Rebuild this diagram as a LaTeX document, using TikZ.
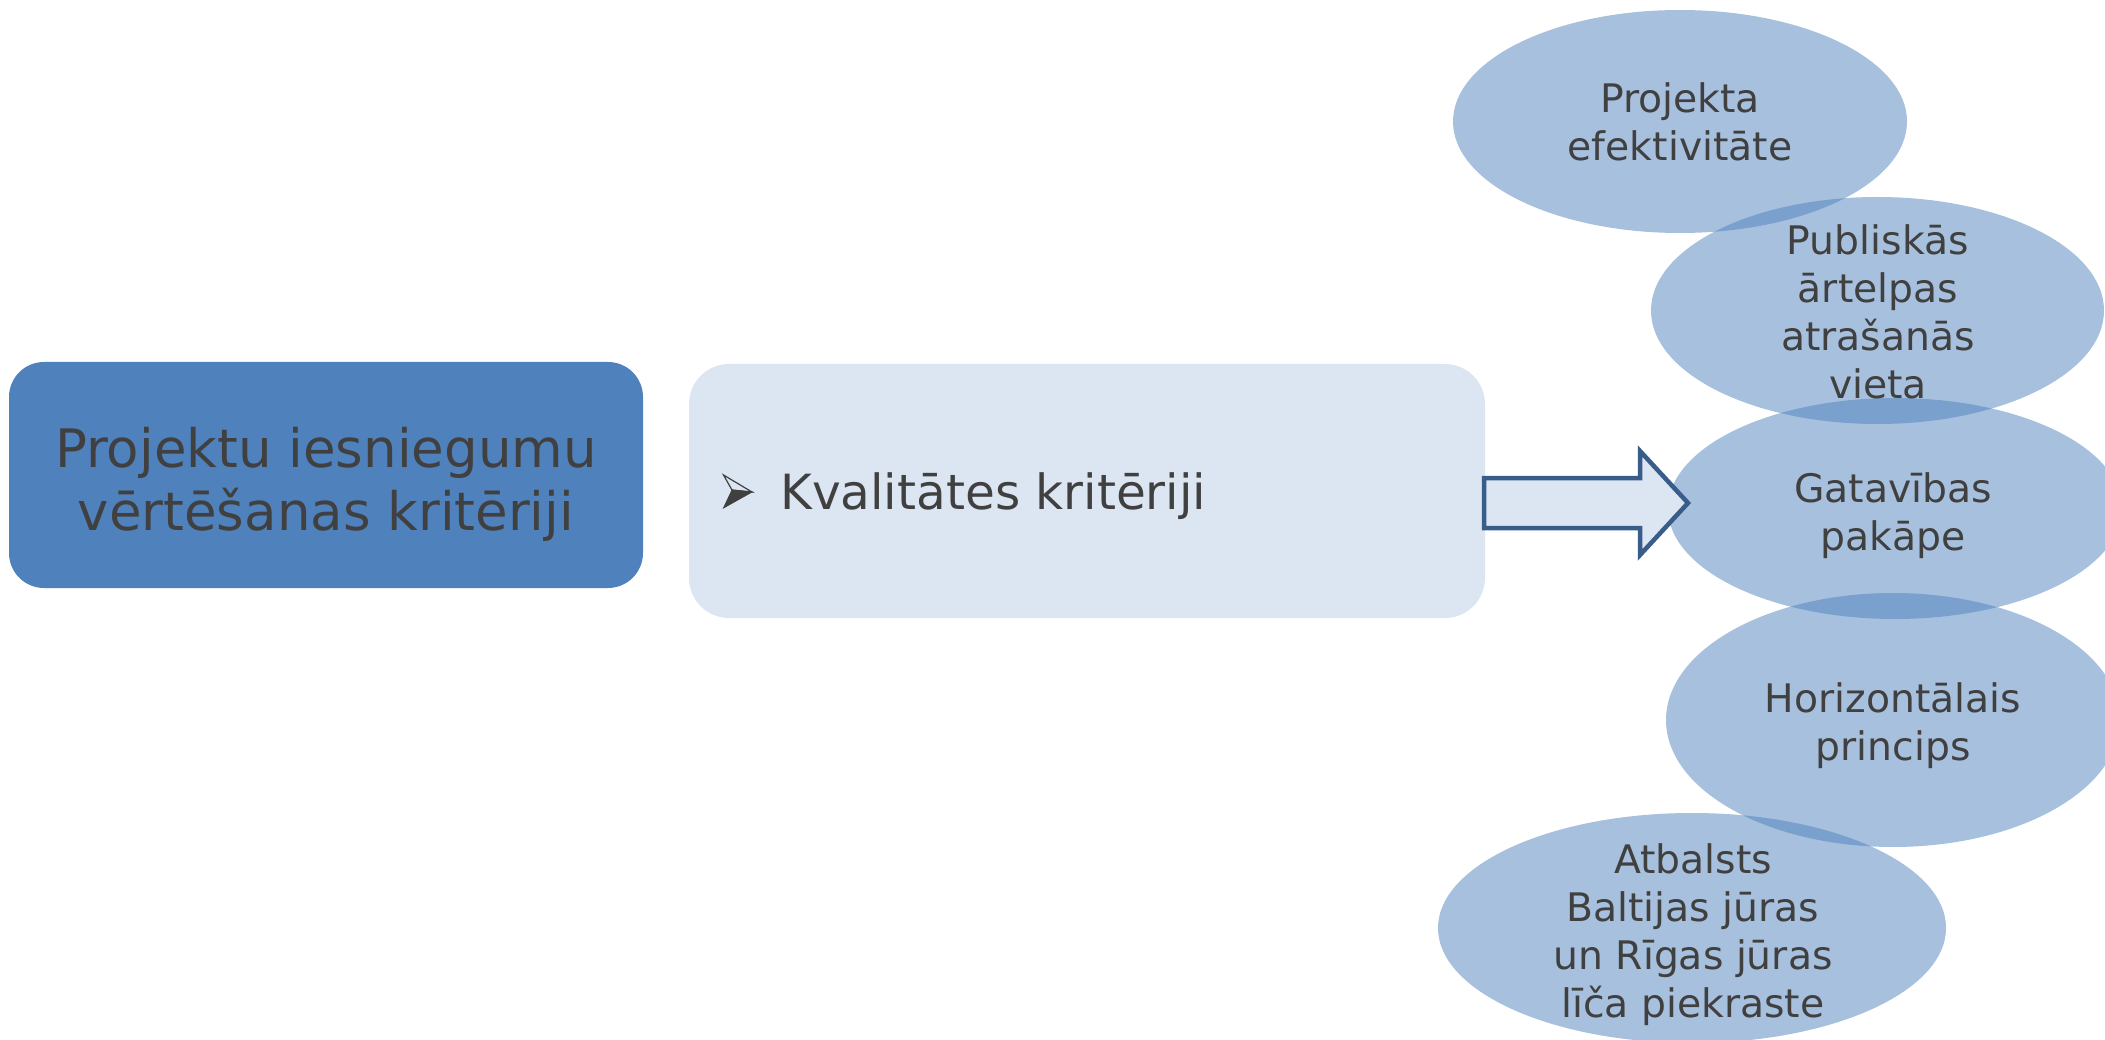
\documentclass[tikz,border=0pt]{standalone}
\usepackage{fontspec}
\setmainfont{DejaVu Sans}
\usetikzlibrary{shapes.geometric}
\definecolor{mainblue}{HTML}{4F81BD}
\definecolor{paleblue}{HTML}{DCE6F2}
\definecolor{txtgray}{HTML}{404040}
\definecolor{arrowblue}{HTML}{385D8A}
\tikzset{
  mainbox/.style={rectangle, rounded corners=35pt, fill=mainblue, inner sep=0pt},
  listbox/.style={rectangle, rounded corners=40pt, fill=paleblue, inner sep=0pt},
  bubble/.style={ellipse, fill=mainblue, fill opacity=0.5, inner sep=0pt},
  bigtext/.style={text=txtgray, align=center, inner sep=0pt, font=\fontsize{53pt}{63pt}\selectfont},
  itemtext/.style={text=txtgray, inner sep=0pt, font=\fontsize{48.5pt}{56pt}\selectfont},
  bubbletext/.style={text=txtgray, align=center, inner sep=0pt, font=\fontsize{39.3pt}{48pt}\selectfont},
  bigarrow/.style={draw=arrowblue, fill=paleblue, line width=4.5pt, line join=miter},
  bulletline/.style={draw=txtgray, line width=1.2pt, line join=miter},
  bulletfill/.style={fill=txtgray, draw=txtgray, line width=0.8pt, line join=miter}
}
\begin{document}
\begin{tikzpicture}[x=1pt, y=-1pt]
\useasboundingbox (0,0) rectangle (2105,1040);
% left boxes
\node[mainbox, minimum width=634pt, minimum height=226pt] (main) at (326,475) {};
\node[bigtext] (maintext) at (326,485.9) {\strut Projektu iesniegumu\\vērtēšanas kritēriji\strut};
\node[listbox, minimum width=796pt, minimum height=254pt] (list) at (1087,491) {};
% bullet (arrowhead)
\coordinate (bA) at (723.5,475);
\coordinate (bT) at (752,492);
\coordinate (bN) at (732,490);
\coordinate (bB) at (723.5,508);
\draw[bulletline] (bA) -- (bT) -- (bN) -- cycle;
\filldraw[bulletfill] (bN) -- (bT) -- (bB) -- cycle;
\node[itemtext, anchor=base west] (item) at (780,509) {Kvalitātes kritēriji};
% ellipses
\node[bubble, minimum width=454pt, minimum height=223pt] (e1) at (1680,121.5) {};
\node[bubble, minimum width=453pt, minimum height=227pt] (e2) at (1877.5,310.5) {};
\node[bubble, minimum width=454pt, minimum height=221pt] (e3) at (1895,508.5) {};
\node[bubble, minimum width=454pt, minimum height=254pt] (e4) at (1893,720) {};
\node[bubble, minimum width=508pt, minimum height=230pt] (e5) at (1692,928) {};
% arrow
\coordinate (a1) at (1484,478);
\coordinate (a2) at (1640,478);
\coordinate (a3) at (1640,451);
\coordinate (a4) at (1688,503);
\coordinate (a5) at (1640,555);
\coordinate (a6) at (1640,528);
\coordinate (a7) at (1484,528);
\draw[bigarrow] (a1) -- (a2) -- (a3) -- (a4) -- (a5) -- (a6) -- (a7) -- cycle;
% ellipse texts
\node[bubbletext] (t1) at (1680,127.4) {\strut Projekta\\efektivitāte\strut};
\node[bubbletext] (t2) at (1878,317.4) {\strut Publiskās\\ārtelpas\\atrašanās\\vieta\strut};
\node[bubbletext] (t3) at (1893,516.4) {\strut Gatavības\\pakāpe\strut};
\node[bubbletext] (t4) at (1893,726.4) {\strut Horizontālais\\princips\strut};
\node[bubbletext] (t5) at (1693,935.4) {\strut Atbalsts\\Baltijas jūras\\un Rīgas jūras\\līča piekraste\strut};
\end{tikzpicture}
\end{document}
